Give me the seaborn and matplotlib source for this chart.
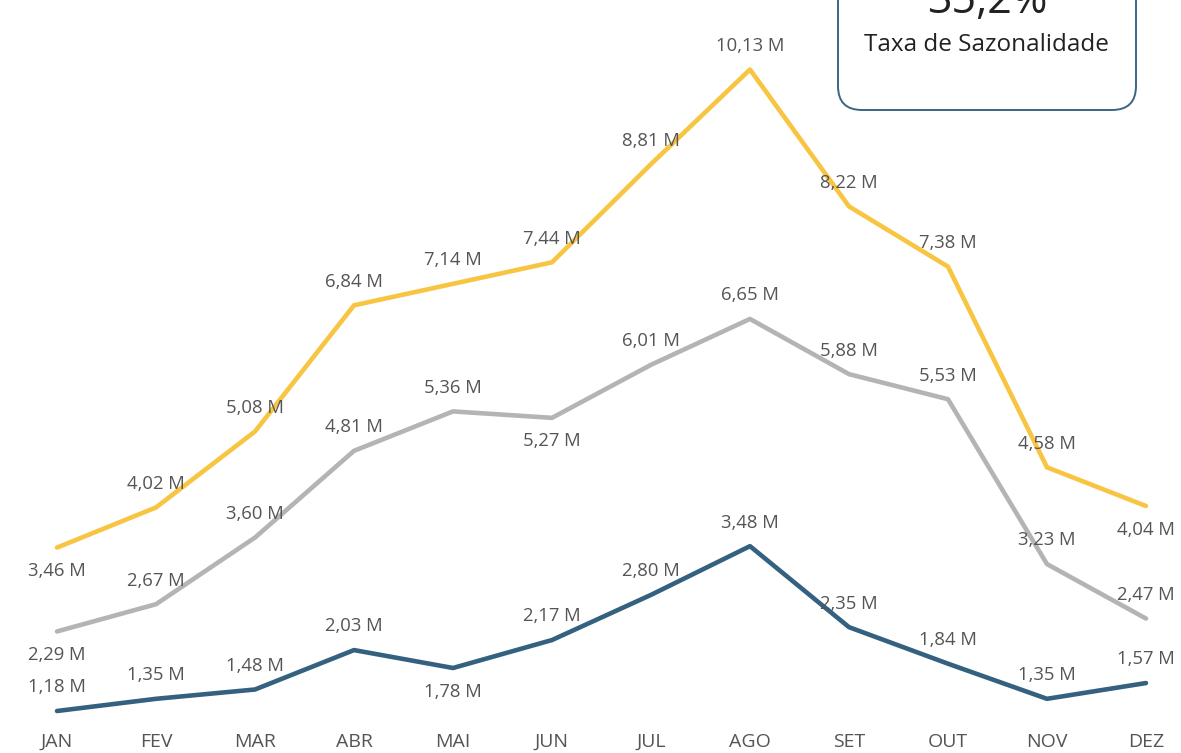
import matplotlib
matplotlib.use("Agg")
import matplotlib.pyplot as plt
from matplotlib.patches import FancyBboxPatch
from matplotlib.transforms import IdentityTransform
import seaborn as sns
import pandas as pd

meses = ["JAN", "FEV", "MAR", "ABR", "MAI", "JUN",
         "JUL", "AGO", "SET", "OUT", "NOV", "DEZ"]
serie_alta = [3.46, 4.02, 5.08, 6.84, 7.14, 7.44, 8.81, 10.13, 8.22, 7.38, 4.58, 4.04]
serie_media = [2.29, 2.67, 3.60, 4.81, 5.36, 5.27, 6.01, 6.65, 5.88, 5.53, 3.23, 2.47]
serie_baixa = [1.18, 1.35, 1.48, 2.03, 1.78, 2.17, 2.80, 3.48, 2.35, 1.84, 1.35, 1.57]
taxa_sazonalidade = "35,2%"
titulo_kpi = "Taxa de Sazonalidade"

series = {"alta": serie_alta, "media": serie_media, "baixa": serie_baixa}
cores = {"alta": "#F8C542", "media": "#B4B4B4", "baixa": "#356180"}
# months whose value label sits under the point
rotulo_abaixo = {"alta": {0, 11}, "media": {0, 5}, "baixa": {4}}

df = pd.DataFrame(
    [{"mes": i, "serie": nome, "valor": v}
     for nome, vals in series.items() for i, v in enumerate(vals)]
)

sns.set_theme(style="white")
plt.rcParams["font.family"] = ["Open Sans", "DejaVu Sans"]

W, H = 1181, 753
fig = plt.figure(figsize=(W / 100, H / 100), dpi=100)
ax = fig.add_axes([0, 0, 1, 1])

sns.lineplot(data=df, x="mes", y="valor", hue="serie", palette=cores,
             linewidth=3.3, legend=False, ax=ax, solid_capstyle="round")

texto = "#555555"
for nome, vals in series.items():
    for i, v in enumerate(vals):
        abaixo = i in rotulo_abaixo[nome]
        ax.annotate(f"{v:.2f} M".replace(".", ","), (i, v),
                    xytext=(0, -17 if abaixo else 17), textcoords="offset points",
                    ha="center", va="center", fontsize=13.3, color=texto)

for i, m in enumerate(meses):
    ax.annotate(m, (i, 0), xycoords=("data", "axes fraction"),
                xytext=(0, 8), textcoords="offset points",
                ha="center", va="center", fontsize=14, color=texto)

ax.set_xlim(-0.576, 11.354)
ax.set_ylim(0.594, 11.10)
ax.axis("off")

# KPI card in pixel coordinates (origin at bottom-left)
card = FancyBboxPatch((838, H - 110), 298, 160,
                      boxstyle="round,pad=0,rounding_size=24",
                      facecolor="white", edgecolor="#3A6583",
                      linewidth=1.4, zorder=5)
card.set_transform(IdentityTransform())
fig.patches.append(card)
fig.text(987 / W, 1 - 2 / H, taxa_sazonalidade, ha="center", va="center",
         fontsize=31, color="#222222", zorder=6)
fig.text(986 / W, 1 - 45 / H, titulo_kpi, ha="center", va="center",
         fontsize=17.5, color="#222222", zorder=6)

fig.savefig("out.png", dpi=100)
